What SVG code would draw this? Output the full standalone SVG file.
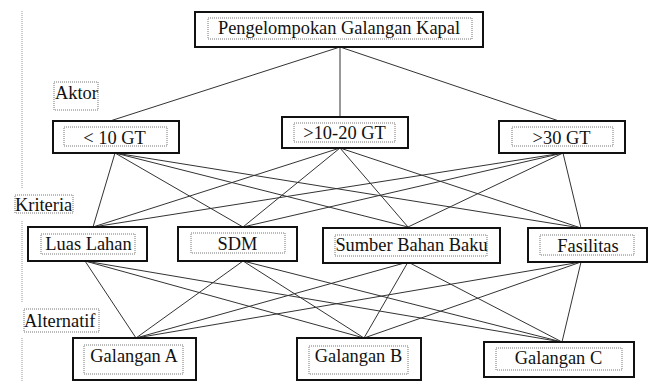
<svg xmlns="http://www.w3.org/2000/svg" width="656" height="381" viewBox="0 0 656 381">
<style>
.box{fill:#fff;stroke:#111;stroke-width:2}
.inner{fill:none;stroke:#777;stroke-width:1;stroke-dasharray:1 1}
.lbl{fill:none;stroke:#777;stroke-width:1;stroke-dasharray:1 1}
.t{font-family:"Liberation Serif","Times New Roman",serif;font-size:18.4px;fill:#111;text-anchor:middle}
.ts{font-family:"Liberation Serif","Times New Roman",serif;font-size:18.4px;fill:#111}
.c line{stroke:#333;stroke-width:1}
.guide{stroke:#999;stroke-width:1;stroke-dasharray:1 1}
</style>
<rect width="656" height="381" fill="#fff"/>
<g id="guides">
<line class="guide" x1="22" y1="11" x2="22" y2="189"/>
<line class="guide" x1="22" y1="221" x2="22" y2="302"/>
<line class="guide" x1="22" y1="338" x2="22" y2="381"/>
</g>
<g class="c" id="connectors">
<line x1="340" y1="47" x2="110" y2="121"/>
<line x1="340" y1="47" x2="340" y2="117"/>
<line x1="340" y1="47" x2="559" y2="121"/>
<line x1="115" y1="153" x2="93" y2="227"/>
<line x1="115" y1="153" x2="243" y2="227"/>
<line x1="115" y1="153" x2="408" y2="227"/>
<line x1="115" y1="153" x2="581" y2="228"/>
<line x1="340" y1="148" x2="93" y2="227"/>
<line x1="340" y1="148" x2="243" y2="227"/>
<line x1="340" y1="148" x2="408" y2="227"/>
<line x1="340" y1="148" x2="581" y2="228"/>
<line x1="563" y1="153" x2="93" y2="227"/>
<line x1="563" y1="153" x2="243" y2="227"/>
<line x1="563" y1="153" x2="408" y2="227"/>
<line x1="563" y1="153" x2="581" y2="228"/>
<line x1="85" y1="261" x2="136" y2="338"/>
<line x1="85" y1="261" x2="364" y2="338"/>
<line x1="85" y1="261" x2="562" y2="342"/>
<line x1="243" y1="261" x2="136" y2="338"/>
<line x1="243" y1="261" x2="364" y2="338"/>
<line x1="243" y1="261" x2="562" y2="342"/>
<line x1="408" y1="262" x2="136" y2="338"/>
<line x1="408" y1="262" x2="364" y2="338"/>
<line x1="408" y1="262" x2="562" y2="342"/>
<line x1="581" y1="262" x2="136" y2="338"/>
<line x1="581" y1="262" x2="364" y2="338"/>
<line x1="581" y1="262" x2="562" y2="342"/>
</g>
<g id="root">
<rect class="box" x="195" y="12" width="288" height="35"/>
<rect class="inner" x="208" y="18" width="264" height="21"/>
<text class="t" x="339" y="34">Pengelompokan Galangan Kapal</text>
</g>
<g id="label-aktor">
<rect class="lbl" x="54" y="82" width="44" height="28"/>
<text class="ts" x="55" y="99">Aktor</text>
</g>
<g id="label-kriteria">
<rect class="lbl" x="15" y="195" width="58" height="18"/>
<text class="ts" x="15" y="211">Kriteria</text>
</g>
<g id="label-alternatif">
<rect class="lbl" x="24" y="309" width="75" height="23"/>
<text class="ts" x="24" y="327">Alternatif</text>
</g>
<g id="aktor-1">
<rect class="box" x="53" y="121" width="126" height="32"/>
<rect class="inner" x="64" y="127" width="103" height="19"/>
<text class="t" x="114.5" y="144">&lt; 10 GT</text>
</g>
<g id="aktor-2">
<rect class="box" x="282" y="117" width="126" height="31"/>
<rect class="inner" x="294" y="123" width="101" height="19"/>
<text class="t" x="344.5" y="139">&gt;10-20 GT</text>
</g>
<g id="aktor-3">
<rect class="box" x="499" y="121" width="126" height="32"/>
<rect class="inner" x="512" y="127" width="101" height="19"/>
<text class="t" x="561.5" y="144">&gt;30 GT</text>
</g>
<g id="kriteria-1">
<rect class="box" x="28" y="227" width="119" height="34"/>
<rect class="inner" x="41" y="234" width="94" height="20"/>
<text class="t" x="88.5" y="250">Luas Lahan</text>
</g>
<g id="kriteria-2">
<rect class="box" x="178" y="227" width="119" height="34"/>
<rect class="inner" x="191" y="233" width="94" height="20"/>
<text class="t" x="237.5" y="250">SDM</text>
</g>
<g id="kriteria-3">
<rect class="box" x="323" y="228" width="177" height="35"/>
<rect class="inner" x="335" y="235" width="152" height="21"/>
<text class="t" x="411.5" y="251">Sumber Bahan Baku</text>
</g>
<g id="kriteria-4">
<rect class="box" x="528" y="228" width="119" height="34"/>
<rect class="inner" x="540" y="235" width="94" height="20"/>
<text class="t" x="588" y="252">Fasilitas</text>
</g>
<g id="alternatif-1">
<rect class="box" x="73" y="338" width="123" height="42"/>
<rect class="inner" x="84" y="345" width="99" height="29"/>
<text class="t" x="134" y="362">Galangan A</text>
</g>
<g id="alternatif-2">
<rect class="box" x="297" y="338" width="124" height="42"/>
<rect class="inner" x="309" y="346" width="99" height="28"/>
<text class="t" x="358.5" y="362">Galangan B</text>
</g>
<g id="alternatif-3">
<rect class="box" x="484" y="342" width="150" height="35"/>
<rect class="inner" x="496" y="348" width="126" height="22"/>
<text class="t" x="558.5" y="364">Galangan C</text>
</g>
</svg>
